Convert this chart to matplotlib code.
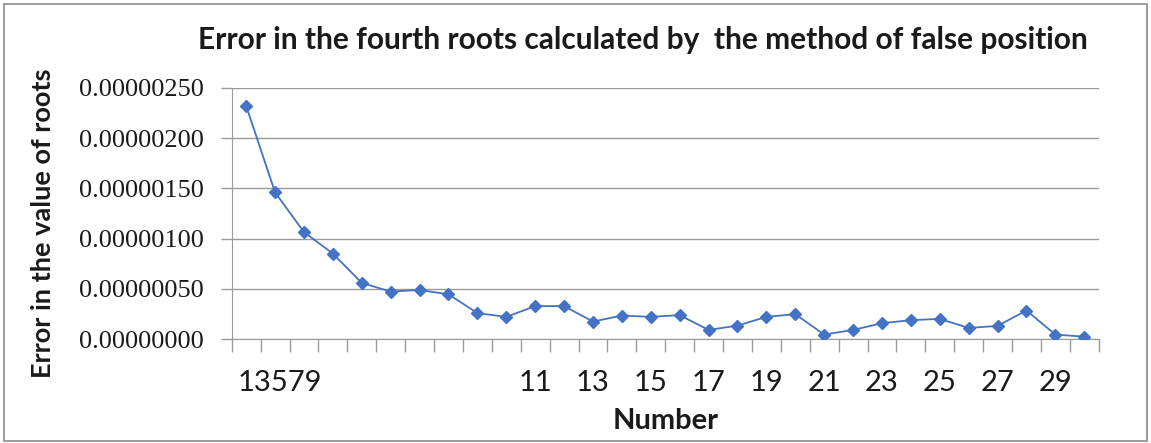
import matplotlib
matplotlib.use("Agg")
import matplotlib.pyplot as plt
from matplotlib.patches import Rectangle
from matplotlib.ticker import FixedLocator, FuncFormatter

# Error values for each computed fourth root (false position method)
numbers = list(range(1, 31))
errors = [
    2.32e-6, 1.46e-6, 1.065e-6, 0.852e-6, 0.560e-6, 0.474e-6, 0.490e-6, 0.447e-6,
    0.261e-6, 0.222e-6, 0.330e-6, 0.330e-6, 0.176e-6, 0.236e-6, 0.223e-6, 0.240e-6,
    0.093e-6, 0.136e-6, 0.223e-6, 0.250e-6, 0.047e-6, 0.093e-6, 0.160e-6, 0.190e-6,
    0.203e-6, 0.113e-6, 0.133e-6, 0.286e-6, 0.047e-6, 0.026e-6,
]
x_tick_positions = [2.18, 11, 13, 15, 17, 19, 21, 23, 25, 27, 29]
x_tick_labels = ["13579", "11", "13", "15", "17", "19", "21", "23", "25", "27", "29"]
y_ticks = [0.0, 0.5e-6, 1.0e-6, 1.5e-6, 2.0e-6, 2.5e-6]

W, H = 1151, 443
fig = plt.figure(figsize=(W / 100, H / 100), dpi=100)
fig.patch.set_facecolor("white")

# outer chart border
fig.add_artist(Rectangle((4 / W, 2 / H), (W - 8) / W, (H - 6) / H,
                         transform=fig.transFigure, fill=False,
                         edgecolor="#8c8c8c", linewidth=1.2))

ax = fig.add_axes([231.7 / W, (H - 339.3) / H, 867 / W, (339.3 - 87.7) / H])

line_color = "#4472C4"
ax.plot(numbers, errors, color=line_color, linewidth=1.3,
        marker="D", markersize=6, markerfacecolor=line_color,
        markeredgecolor=line_color, zorder=3)

ax.set_xlim(0.5, 30.5)
ax.set_ylim(0, 2.5e-6)

# y axis: gridlines and serif labels
ax.set_yticks(y_ticks)
ax.yaxis.set_major_formatter(FuncFormatter(lambda v, p: f"{v:.8f}"))
ax.grid(axis="y", color="#9a9a9a", linewidth=1.0)
ax.set_axisbelow(True)
for lab in ax.get_yticklabels():
    lab.set_fontfamily("Liberation Serif")
    lab.set_fontsize(19)
    lab.set_color("#1a1a1a")
ax.tick_params(axis="y", which="major", length=8, width=1, color="#9a9a9a",
               direction="out", pad=12)

# x axis: category boundary ticks with odd-number labels
ax.xaxis.set_minor_locator(FixedLocator([i + 0.5 for i in range(0, 31)]))
ax.set_xticks(x_tick_positions)
ax.set_xticklabels(x_tick_labels, fontfamily="Lato", fontsize=21, color="#1a1a1a")
ax.tick_params(axis="x", which="major", length=0, pad=22)
ax.tick_params(axis="x", which="minor", length=9, width=1, color="#9a9a9a",
               direction="out")

for side in ("top", "right"):
    ax.spines[side].set_visible(False)
ax.spines["left"].set_color("#9a9a9a")
ax.spines["bottom"].set_color("#9a9a9a")

ax.set_xlabel("Number", fontfamily="Lato", fontweight="bold", fontsize=21,
              color="#1a1a1a", labelpad=9)

fig.text(43 / W, 1 - 223.5 / H, "Error in the value of roots",
         rotation=90, ha="center", va="center", fontfamily="Lato",
         fontweight="bold", fontsize=19.5, color="#1a1a1a")

fig.text(643 / W, 1 - 40 / H,
         "Error in the fourth roots calculated by  the method of false position",
         ha="center", va="center", fontfamily="Lato", fontweight="bold",
         fontsize=21.5, color="#1a1a1a")

fig.savefig("out.png", dpi=100)
